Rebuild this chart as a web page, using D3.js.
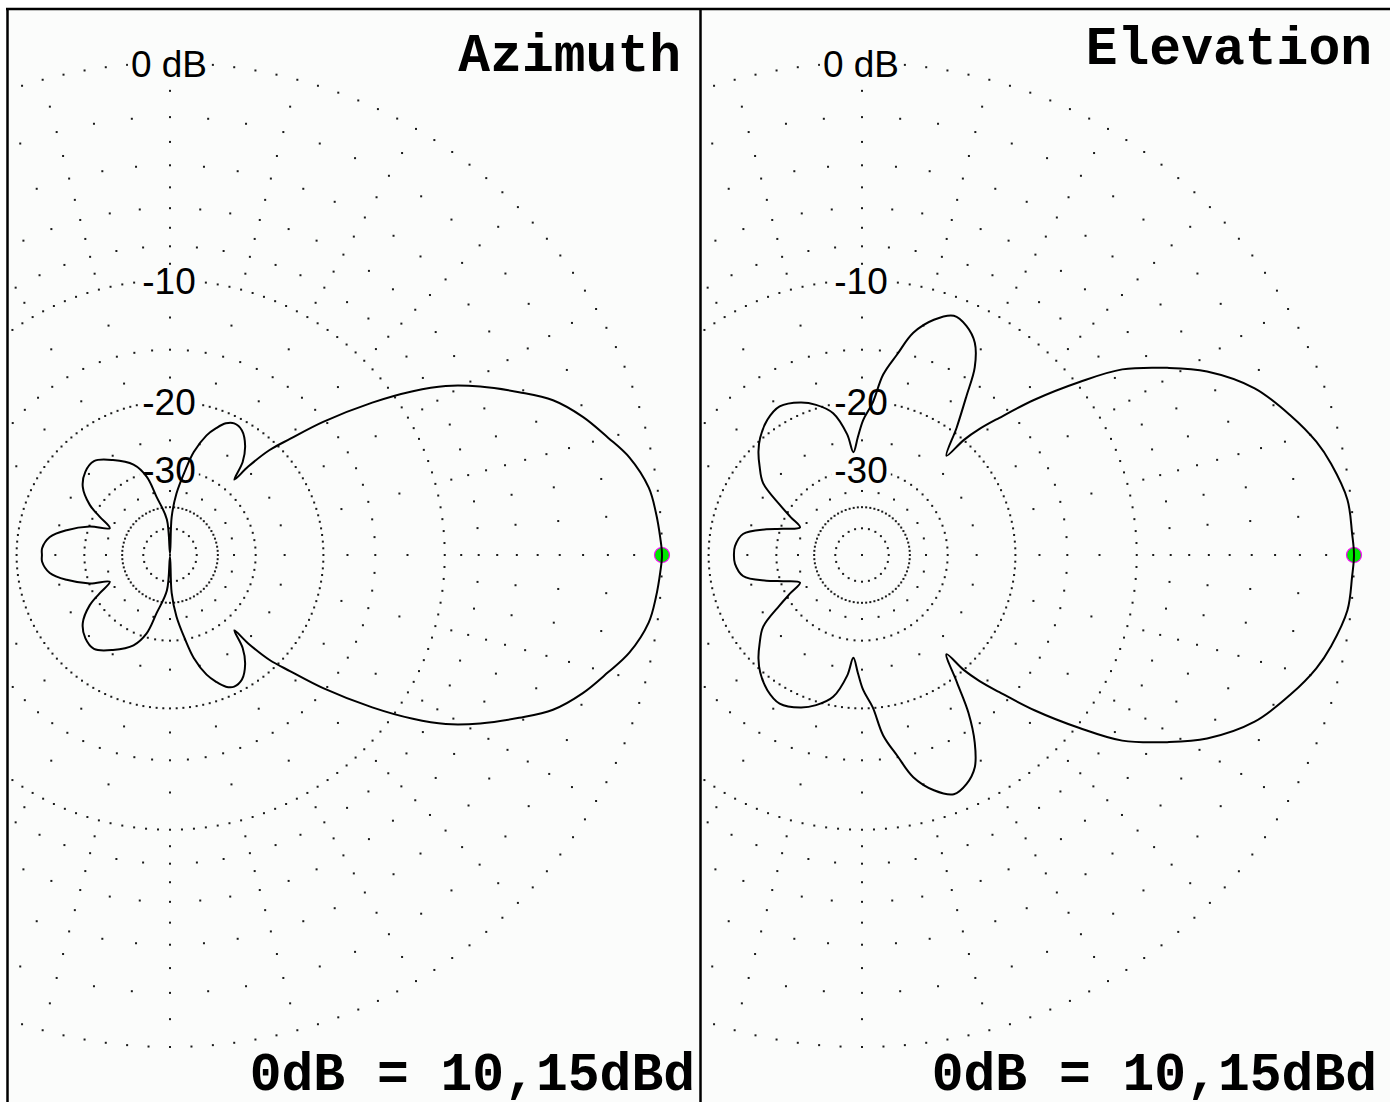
<!DOCTYPE html>
<html><head><meta charset="utf-8">
<script src="https://cdn.jsdelivr.net/npm/d3@7"></script>
<style>
html,body{margin:0;padding:0;background:#ffffff;}
svg{display:block;}
</style></head><body>
<svg id="chart" width="1390" height="1102"></svg>
<script>
// ---- data (angle in degrees, counter-clockwise from the main lobe; gain in dB) ----
const azAngles = [0,2,5,8,12,15,18.5,22,25,28.5,31.5,34,37,41,44,46.5,48.5,49.5,52,55.5,60,64,67,70,73,77,80,84,87.5,90,
  95,103,106.6,112,121,129,135.5,142,148,151.5,156,160.5,166.5,171.5,177,180,
  183,188.5,193.5,199.5,204,208.5,212,218,224.5,231,239,248,253.4,257,265,
  270,272.5,276,280,283,287,290,293,296,300,304.5,308,310.5,311.5,313.5,316,319,323,326,328.5,331.5,335,338,341.5,345,348,352,355,358];
const azGains = [0,-0.05,-0.15,-0.3,-0.8,-1.4,-2.1,-3.0,-4.2,-5.7,-7.2,-8.9,-11.4,-15.2,-18.5,-21,-24.5,-27.5,-24.5,-22.5,-21.1,-20.8,-21.2,-22.2,-23.5,-26.4,-30.2,-35.6,-44,-100,
  -45,-36.2,-30.8,-27.8,-25.6,-24.1,-24.4,-25.6,-28.3,-31.2,-34.5,-30.1,-26.3,-24.0,-23.1,-23.1,
  -23.1,-24.0,-26.3,-30.1,-34.5,-31.2,-28.3,-25.6,-24.4,-24.1,-25.6,-27.8,-30.8,-36.2,-45,
  -100,-44,-35.6,-30.2,-26.4,-23.5,-22.2,-21.2,-20.8,-21.1,-22.5,-24.5,-27.5,-24.5,-21,-18.5,-15.2,-11.4,-8.9,-7.2,-5.7,-4.2,-3.0,-2.1,-1.4,-0.8,-0.3,-0.15,-0.05];

const elAngles = [0,2.5,6.5,11,14,18,23,28,31.5,35.5,38.5,42,45,47,48.5,49.6,53.4,56.7,59,62,65.5,69,73,77,80,83.3,86,89.5,92,94.8,
  97,101.5,107,112,119,125,131,135,139,144,148.5,152,156,161.7,165,170,176,180,
  184,190,195,198.3,204,208,211.5,216,221,225,229,235,241,248,253,258.5,263,
  265.2,268,270.5,274,276.7,280,283,287,291,294.5,298,301,304,306.7,310.4,311.5,313,315,318,321.5,324.5,328.5,332,337,342,346,349,353.5,357.5];
const elGains = [0,-0.05,-0.12,-0.5,-0.85,-1.5,-2.45,-3.95,-5.45,-7.4,-9.8,-12.9,-16,-18,-20,-22.8,-19.4,-16.3,-13.9,-12.3,-11.5,-11.2,-11.9,-13.2,-15.1,-17.1,-20.1,-22.2,-24.5,-26.8,
  -24.0,-21.0,-19.6,-18.8,-18.25,-18.75,-19.8,-20.8,-22.1,-23.9,-27.9,-31,-34,-30.5,-27.5,-24.1,-23.2,-23.1,
  -23.2,-24.1,-27.5,-30.5,-34,-31,-27.9,-23.9,-22.1,-20.8,-19.8,-18.75,-18.25,-18.8,-19.6,-21.0,-24.0,
  -26.8,-24.5,-22.2,-20.1,-17.1,-15.1,-13.2,-11.9,-11.2,-11.5,-12.3,-13.9,-16.3,-19.4,-22.8,-20,-18,-16,-12.9,-9.8,-7.4,-5.45,-3.95,-2.45,-1.5,-0.85,-0.5,-0.12,-0.05];

const majorRings = [0,-10,-20,-30,-40,-50];
const majorSteps = [2.5,2.5,2.5,5,5,15];
const minorRings = [-1,-2,-3,-4,-5,-6,-7,-8,-9,-12.5,-15,-17.5,-25,-35];
const minorSteps = [15,5,15,5,15,5,15,5,15,15,5,15,15,15];
const labelLevels = [0,-10,-20,-30];
const labelTexts = ["0 dB","-10","-20","-30"];
const titles = ["Azimuth","Elevation"];
const footers = ["0dB = 10,15dBd","0dB = 10,15dBd"];

// ---- layout ----
const svg = d3.select("#chart");
const R = 492, CY = 555;
const BG = "#fbfcfb";
const panels = [
  {x0:8, x1:700, cx:170, title:titles[0], titleX:681, titleY:71, footer:footers[0], footX:695, angles:azAngles, gains:azGains},
  {x0:701, x1:1392, cx:862, title:titles[1], titleX:1372, titleY:64, footer:footers[1], footX:1377, angles:elAngles, gains:elGains}
];

// ARRL-style log scale: 0.89 per 2 dB
const lnScale = d3.scaleLinear().domain([-100, 0]).range([50*Math.log(0.89), 0]);
const rOf = db => R * Math.exp(lnScale(db));
const rad = deg => deg*Math.PI/180;

panels.forEach((p, i) => {
  const clipId = "clip" + i;
  svg.append("clipPath").attr("id", clipId)
    .append("rect").attr("x", p.x0).attr("y", 9).attr("width", p.x1 - p.x0).attr("height", 1102 - 9);
  const g = svg.append("g").attr("clip-path", `url(#${clipId})`);
  g.append("rect").attr("x", p.x0).attr("y", 9).attr("width", p.x1 - p.x0).attr("height", 1102).attr("fill", BG);

  const grid = g.append("g").attr("transform", `translate(${p.cx},${CY})`);
  const dots = [];
  const addRing = (db, step) => {
    const r = rOf(db);
    for (let a = 0; a < 360 - 1e-6; a += step) dots.push([r*Math.cos(rad(a)), -r*Math.sin(rad(a))]);
  };
  majorRings.forEach((db, k) => addRing(db, majorSteps[k]));
  minorRings.forEach((db, k) => addRing(db, minorSteps[k]));
  dots.push([0,0]);
  grid.selectAll("rect.dot").data(dots).join("rect").attr("class","dot")
    .attr("x", d => d[0]-1).attr("y", d => d[1]-1).attr("width", 2).attr("height", 2).attr("fill", "#1a1a1a");

  // ring labels
  labelLevels.forEach((db, k) => {
    const y = -rOf(db);
    const t = grid.append("text").attr("x", -1).attr("y", y + 13.5)
      .attr("text-anchor", "middle").attr("font-family", "'Liberation Sans', Arial, sans-serif")
      .attr("font-size", 37).attr("fill", "#000").text(labelTexts[k]);
    const bb = t.node().getBBox();
    grid.insert("rect", "text").attr("x", bb.x - 3).attr("y", y - 14).attr("width", bb.width + 6).attr("height", 28).attr("fill", BG);
  });

  // title & footer
  g.append("text").attr("x", p.titleX).attr("y", p.titleY).attr("text-anchor", "end")
    .attr("font-family", "'Liberation Mono', 'Courier New', monospace").attr("font-weight", "bold")
    .attr("font-size", 53).attr("fill", "#000").text(p.title);
  g.append("text").attr("x", p.footX).attr("y", 1090).attr("text-anchor", "end")
    .attr("font-family", "'Liberation Mono', 'Courier New', monospace").attr("font-weight", "bold")
    .attr("font-size", 53).attr("fill", "#000").attr("xml:space","preserve").text(p.footer);

  // marker at max
  grid.append("circle").attr("cx", rOf(0)).attr("cy", 0).attr("r", 7.5)
    .attr("fill", "#00e800").attr("stroke", "#ff00ff").attr("stroke-width", 1.2);

  // pattern
  const pts = p.angles.map((a, k) => ({a, g: p.gains[k]}));
  const line = d3.lineRadial()
    .angle(d => rad(90 - d.a))
    .radius(d => rOf(d.g))
    .curve(d3.curveCatmullRomClosed.alpha(0.5));
  grid.append("path").attr("d", line(pts)).attr("fill", "none")
    .attr("stroke", "#000").attr("stroke-width", 2).attr("stroke-linejoin", "round");
});

// frame lines
svg.append("line").attr("x1", 6).attr("x2", 1390).attr("y1", 9).attr("y2", 9).attr("stroke", "#000").attr("stroke-width", 2.5);
svg.append("line").attr("x1", 7.5).attr("x2", 7.5).attr("y1", 8).attr("y2", 1102).attr("stroke", "#000").attr("stroke-width", 2.5);
svg.append("line").attr("x1", 700.5).attr("x2", 700.5).attr("y1", 8).attr("y2", 1102).attr("stroke", "#000").attr("stroke-width", 2.5);
</script>
</body></html>
